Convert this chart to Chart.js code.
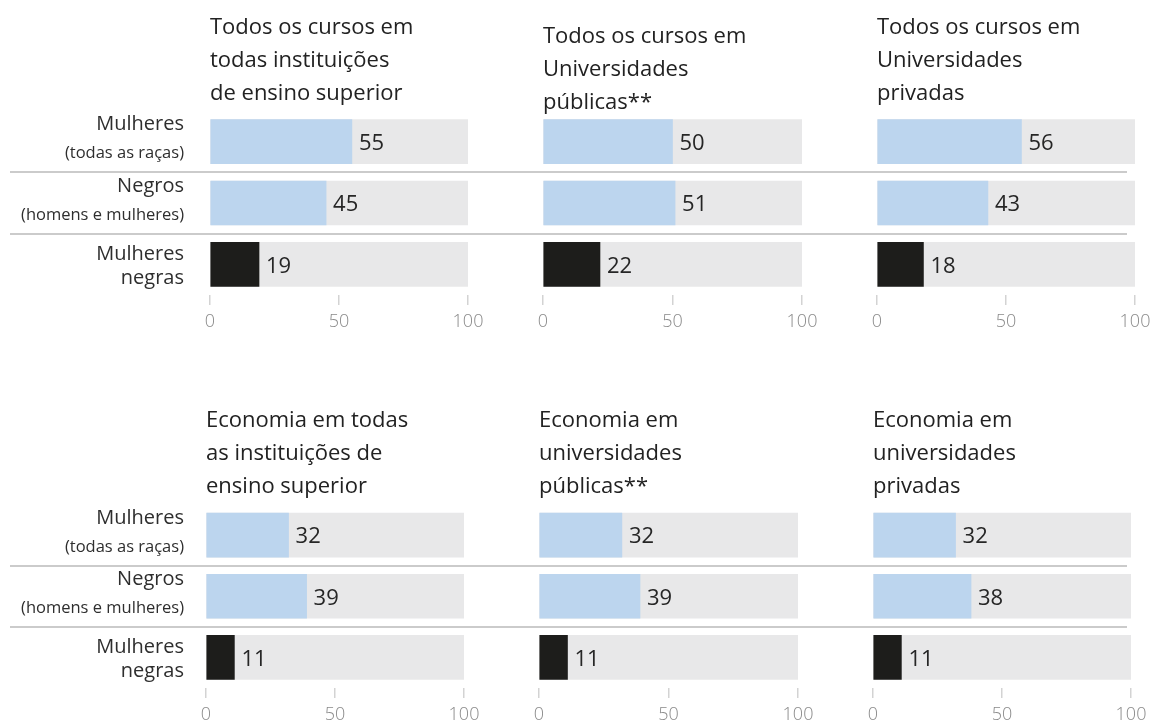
<!DOCTYPE html>
<html>
<head>
<meta charset="utf-8">
<script src="https://cdn.jsdelivr.net/npm/chart.js@4.4.1/dist/chart.umd.min.js"></script>
<style>
html, body { margin: 0; padding: 0; background: #fff; }
body { width: 1150px; height: 725px; position: relative; overflow: hidden; }
.box { position: absolute; }
</style>
</head>
<body>
<script>
// data
const categories = ['Mulheres (todas as raças)', 'Negros (homens e mulheres)', 'Mulheres negras'];
const rowLabels = [['Mulheres', '(todas as raças)'], ['Negros', '(homens e mulheres)'], ['Mulheres', 'negras']];
const panelTitles = [
    ['Todos os cursos em', 'todas instituições', 'de ensino superior'],
    ['Todos os cursos em', 'Universidades', 'públicas**'],
    ['Todos os cursos em', 'Universidades', 'privadas'],
    ['Economia em todas', 'as instituições de', 'ensino superior'],
    ['Economia em', 'universidades', 'públicas**'],
    ['Economia em', 'universidades', 'privadas']
];
const mulheres = [55, 50, 56, 32, 32, 32];
const negros = [45, 51, 43, 39, 39, 38];
const mulheresNegras = [19, 22, 18, 11, 11, 11];
const fullScale = [100, 100, 100];
const xTicks = [0, 50, 100];

// layout (page pixels)
const FONT = '"Open Sans", "Noto Sans", sans-serif';
const rows = [
    {top: 0, height: 360, areaTop: 111, areaBottom: 295, titleY: [28, 37, 28]},
    {top: 390, height: 335, areaTop: 114.5, areaBottom: 298, titleY: [31, 31, 31]}
];
const cols = [
    {left: 0, right: 505, sepFrom: 10, sepTo: 505},
    {left: 505, right: 840, sepFrom: 0, sepTo: 335},
    {left: 840, right: 1150, sepFrom: 0, sepTo: 287}
];
const plotX = [[210, 468], [543, 802], [877, 1135], [206, 464], [539, 798], [873, 1131]];
const LINE_H = 33;

const panelDecor = {
    id: 'panelDecor',
    afterDatasetsDraw(chart, args, opts) {
        const ctx = chart.ctx
        const y = chart.scales.y
        ctx.save()
        // separators between the categories
        ctx.strokeStyle = '#cbcbcb'
        ctx.lineWidth = 2
        for (let i = 0; i < categories.length - 1; i++) {
            const sy = Math.round((y.getPixelForValue(i) + y.getPixelForValue(i + 1)) / 2)
            ctx.beginPath()
            ctx.moveTo(opts.sepFrom, sy)
            ctx.lineTo(opts.sepTo, sy)
            ctx.stroke()
        }
        // value labels
        const values = chart.data.datasets[1].data
        ctx.fillStyle = '#262626'
        ctx.font = '22px ' + FONT
        ctx.textBaseline = 'middle'
        ctx.textAlign = 'left'
        chart.getDatasetMeta(1).data.forEach((bar, i) => {
            ctx.fillText(values[i], bar.x + 7, bar.y + 2)
        })
        // row labels on the first panel of each row
        if (opts.showRowLabels) {
            ctx.textAlign = 'right'
            ctx.fillStyle = '#2e2e2e'
            rowLabels.forEach((lines, i) => {
                const yc = y.getPixelForValue(i)
                const small = lines[1].startsWith('(')
                ctx.font = '20px ' + FONT
                ctx.fillText(lines[0], 184, small ? yc - 17 : yc - 10)
                ctx.font = (small ? '16.5px ' : '20px ') + FONT
                ctx.fillText(lines[1], 184, small ? yc + 12 : yc + 14)
            })
        }
        ctx.restore()
    }
};

function makePanel(p) {
    const r = rows[Math.floor(p / 3)]
    const c = cols[p % 3]
    const w = c.right - c.left
    const div = document.createElement('div')
    div.className = 'box'
    div.style.left = c.left + 'px'
    div.style.top = r.top + 'px'
    const canvas = document.createElement('canvas')
    canvas.width = w
    canvas.height = r.height
    canvas.style.width = w + 'px'
    canvas.style.height = r.height + 'px'
    div.appendChild(canvas)
    document.body.appendChild(div)

    const padTop = r.titleY[p % 3] - LINE_H / 2
    const padBottom = r.areaTop - padTop - 3 * LINE_H
    const axisH = r.height - r.areaBottom
    const values = [mulheres[p], negros[p], mulheresNegras[p]]

    return new Chart(canvas.getContext('2d'), {
        type: 'bar',
        data: {
            labels: categories,
            datasets: [
                {data: fullScale, backgroundColor: '#e8e8e9', order: 2},
                {data: values, backgroundColor: ['#bcd5ee', '#bcd5ee', '#1d1d1b'], order: 1}
            ]
        },
        options: {
            indexAxis: 'y',
            responsive: false,
            animation: false,
            events: [],
            datasets: {bar: {grouped: false, barThickness: 44, borderWidth: 0}},
            layout: {padding: {left: plotX[p][0] - c.left, right: c.right - plotX[p][1], top: 0, bottom: 0}},
            plugins: {
                legend: {display: false},
                tooltip: {enabled: false},
                title: {
                    display: true,
                    text: panelTitles[p],
                    align: 'start',
                    color: '#222',
                    font: {family: FONT, size: 22, weight: 'normal', lineHeight: LINE_H + 'px'},
                    padding: {top: padTop, bottom: padBottom}
                },
                panelDecor: {sepFrom: c.sepFrom, sepTo: c.sepTo, showRowLabels: p % 3 === 0}
            },
            scales: {
                y: {display: false},
                x: {
                    min: 0,
                    max: 100,
                    afterBuildTicks: (s) => { s.ticks = xTicks.map(v => ({value: v})) },
                    afterFit: (s) => { s.height = axisH; s.paddingLeft = 0; s.paddingRight = 0 },
                    border: {display: false},
                    grid: {drawOnChartArea: false, drawTicks: true, tickLength: 10, color: '#d3d3d3', lineWidth: 1.5},
                    ticks: {padding: 6, color: '#8a8a8a', font: {family: FONT, size: 18, weight: 300}}
                }
            }
        },
        plugins: [panelDecor]
    })
}

for (let p = 0; p < 6; p++) makePanel(p)
</script>
</body>
</html>
